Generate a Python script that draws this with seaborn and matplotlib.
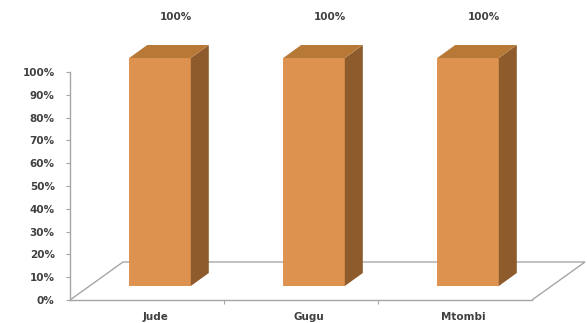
import matplotlib
matplotlib.use("Agg")
import matplotlib.pyplot as plt
import matplotlib.transforms as mtransforms
from matplotlib.patches import Polygon
from matplotlib.ticker import PercentFormatter, FixedLocator
import seaborn as sns

# data
names = ["Jude", "Gugu", "Mtombi"]
shares = [1.0, 1.0, 1.0]
y_ticks = [0.0, 0.1, 0.2, 0.3, 0.4, 0.5, 0.6, 0.7, 0.8, 0.9, 1.0]

FRONT = "#DD9250"
TOP = "#B97936"
SIDE = "#8E5B2C"
GRID = "#A6A6A6"
TXT = "#404040"

sns.set_style("white")
plt.rcParams["font.family"] = ["DejaVu Sans"]

DPI = 100
fig = plt.figure(figsize=(5.87, 3.23), dpi=DPI)
W, H = 587, 323
# axes: spine at x=70 px, floor front edge at y=300 px, 100% at y=72 px
ax = fig.add_axes([70 / W, (H - 300) / H, 462 / W, 228 / H])

sns.barplot(x=names, y=shares, color=FRONT, saturation=1, width=0.40,
            ax=ax, zorder=3, linewidth=0)
ax.set_xlim(-0.5, 2.5)
ax.set_ylim(0, 1)

# pixel offsets for the fake 3d look (display coords, y up)
front_dx, front_dy = 13, 14   # bar front face sits a bit back from the axis plane
depth_dx, depth_dy = 18, 13   # bar depth
floor_dx, floor_dy = 53, 38   # floor depth

fig.canvas.draw()
ident = mtransforms.IdentityTransform()

# floor outline (left, back, right edges); the bottom spine is the front edge
x0, y0 = ax.transAxes.transform((0, 0))
x1, _ = ax.transAxes.transform((1, 0))
floor = [(x0, y0), (x0 + floor_dx, y0 + floor_dy),
         (x1 + floor_dx, y0 + floor_dy), (x1, y0)]
ax.add_patch(Polygon(floor, closed=False, fill=False, edgecolor=GRID,
                     linewidth=1.0, transform=ident, clip_on=False, zorder=1))

# shift the seaborn bars back and add top / side faces
shift = mtransforms.ScaledTranslation(front_dx / DPI, front_dy / DPI, fig.dpi_scale_trans)
for bar in ax.patches[:len(names)]:
    bx, bw, bh = bar.get_x(), bar.get_width(), bar.get_height()
    bar.set_transform(ax.transData + shift)
    bar.set_clip_on(False)
    (lx, by), (rx, ty) = ax.transData.transform([(bx, 0), (bx + bw, bh)])
    lx += front_dx; rx += front_dx; by += front_dy; ty += front_dy
    side = [(rx, by), (rx, ty), (rx + depth_dx, ty + depth_dy), (rx + depth_dx, by + depth_dy)]
    top = [(lx, ty), (rx, ty), (rx + depth_dx, ty + depth_dy), (lx + depth_dx, ty + depth_dy)]
    ax.add_patch(Polygon(side, facecolor=SIDE, edgecolor="none", transform=ident,
                         clip_on=False, zorder=3))
    ax.add_patch(Polygon(top, facecolor=TOP, edgecolor="none", transform=ident,
                         clip_on=False, zorder=3))

# value labels above the bars
for i, v in enumerate(shares):
    ax.annotate(f"{v:.0%}", xy=(i, v), xytext=(29, 55), textcoords="offset pixels",
                ha="center", va="center", fontsize=7.5, fontweight="bold",
                color=TXT, annotation_clip=False)

ax.yaxis.set_major_locator(FixedLocator(y_ticks))
ax.yaxis.set_major_formatter(PercentFormatter(1.0, decimals=0))
ax.set_xlabel("")
ax.set_ylabel("")

for s in ["top", "right"]:
    ax.spines[s].set_visible(False)
for s in ["left", "bottom"]:
    ax.spines[s].set_color(GRID)
    ax.spines[s].set_linewidth(1.0)

ax.tick_params(axis="y", left=True, length=3, width=0.8, color=GRID, pad=8,
               labelsize=7.5, labelcolor=TXT)
ax.tick_params(axis="x", bottom=False, pad=5, labelsize=7.5, labelcolor=TXT)
ax.xaxis.set_minor_locator(FixedLocator([0.5, 1.5]))
ax.tick_params(axis="x", which="minor", bottom=True, length=3, width=0.8, color=GRID)
for lab in ax.get_yticklabels() + ax.get_xticklabels():
    lab.set_fontweight("bold")
nudge = mtransforms.ScaledTranslation(8 / DPI, 0, fig.dpi_scale_trans)
for lab in ax.get_xticklabels():
    lab.set_transform(lab.get_transform() + nudge)

fig.savefig("out.png", dpi=DPI)
